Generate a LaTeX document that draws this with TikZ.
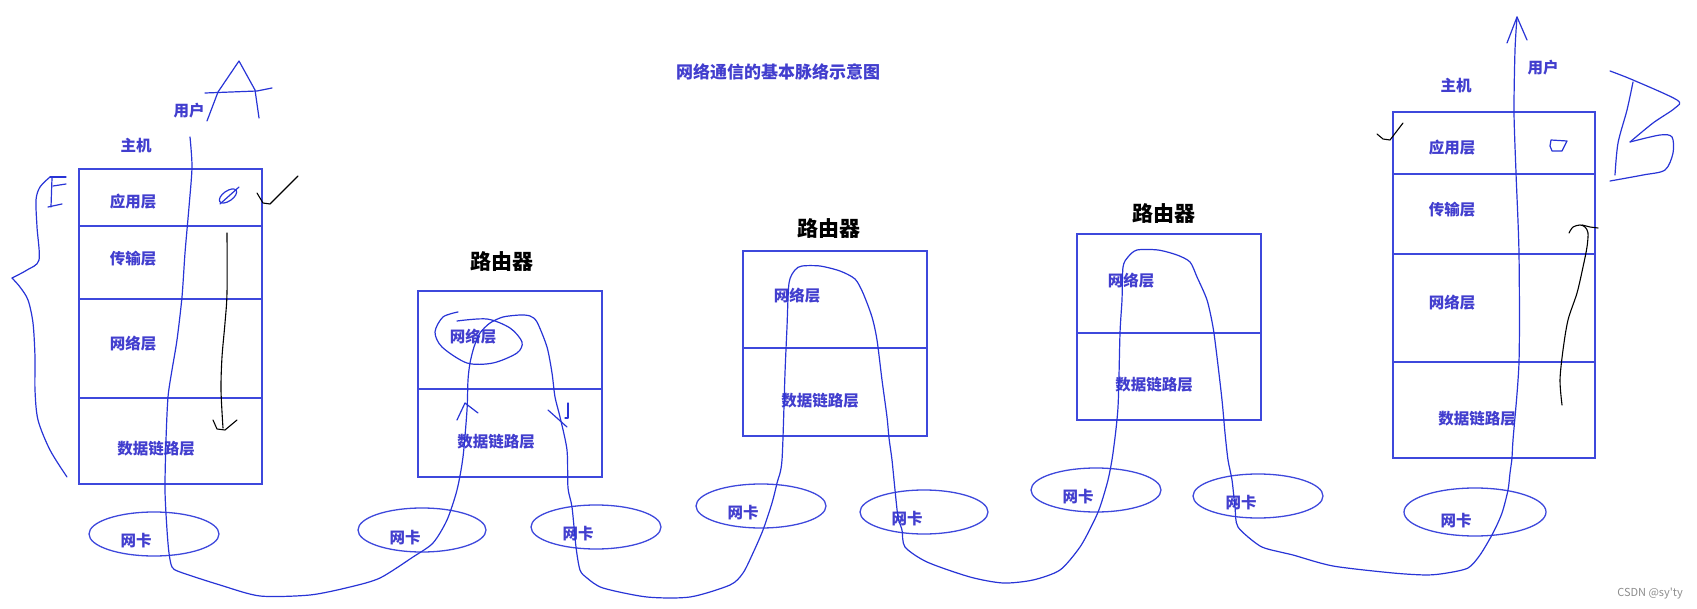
\documentclass[tikz,border=0pt]{standalone}
\usepackage{fontspec}
\newfontfamily\cjk{Noto Sans CJK SC}
\definecolor{boxblue}{RGB}{62,72,220}
\definecolor{penblue}{RGB}{40,52,214}
\definecolor{labelblue}{RGB}{66,62,206}
\tikzset{
  box/.style={draw=boxblue, line width=1.4pt},
  pen/.style={draw=penblue, line width=1.2pt, line cap=round, line join=round},
  ink/.style={draw=black, line width=1.1pt, line cap=round, line join=round},
  layer/.style={text=labelblue, inner sep=0pt, font=\cjk\bfseries\fontsize{15.5}{16}\selectfont},
  heading/.style={text=black, inner sep=0pt, font=\cjk\bfseries\fontsize{21}{22}\selectfont},
  nic/.style={draw=boxblue, line width=1.3pt}
}
\begin{document}
\begin{tikzpicture}[x=1pt, y=-1pt]
      \useasboundingbox (0,0) rectangle (1697,609);

      \node[layer, font=\cjk\bfseries\fontsize{17}{18}\selectfont] (title) at (778,72) {网络通信的基本脉络示意图};

      \draw[box] (79,169) rectangle (262,484);
      \draw[box] (79,226) -- (262,226);
      \draw[box] (79,299) -- (262,299);
      \draw[box] (79,398) -- (262,398);
      \node[layer] (hostA) at (136,146) {主机};
      \node[layer] (userA) at (189,111) {用户};
      \node[layer] (appA) at (133,202) {应用层};
      \node[layer] (transA) at (133,259) {传输层};
      \node[layer] (netA) at (133,344) {网络层};
      \node[layer] (linkA) at (156,449) {数据链路层};

      \draw[box] (418,291) rectangle (602,477);
      \draw[box] (418,389) -- (602,389);
      \node[heading] (routerI) at (502,262) {路由器};
      \node[layer] (netI) at (473,337) {网络层};
      \node[layer] (linkI) at (496,442) {数据链路层};

      \draw[box] (743,251) rectangle (927,436);
      \draw[box] (743,348) -- (927,348);
      \node[heading] (routerII) at (829,229) {路由器};
      \node[layer] (netII) at (797,296) {网络层};
      \node[layer] (linkII) at (820,401) {数据链路层};

      \draw[box] (1077,234) rectangle (1261,420);
      \draw[box] (1077,333) -- (1261,333);
      \node[heading] (routerIII) at (1164,214) {路由器};
      \node[layer] (netIII) at (1131,281) {网络层};
      \node[layer] (linkIII) at (1154,385) {数据链路层};

      \draw[box] (1393,112) rectangle (1595,458);
      \draw[box] (1393,174) -- (1595,174);
      \draw[box] (1393,254) -- (1595,254);
      \draw[box] (1393,362) -- (1595,362);
      \node[layer] (hostB) at (1456,86) {主机};
      \node[layer] (userB) at (1543,68) {用户};
      \node[layer] (appB) at (1452,148) {应用层};
      \node[layer] (transB) at (1452,210) {传输层};
      \node[layer] (netB) at (1452,303) {网络层};
      \node[layer] (linkB) at (1477,419) {数据链路层};

      \draw[nic] (154,534) ellipse (65 and 22);
      \node[layer] (nicA) at (136,541) {网卡};
      \draw[nic] (422,530) ellipse (64 and 22);
      \node[layer] (nicIa) at (405,538) {网卡};
      \draw[nic] (596,527) ellipse (65 and 22);
      \node[layer] (nicIb) at (578,534) {网卡};
      \draw[nic] (761,506) ellipse (65 and 22);
      \node[layer] (nicIIa) at (743,513) {网卡};
      \draw[nic] (924,512) ellipse (64 and 22);
      \node[layer] (nicIIb) at (907,519) {网卡};
      \draw[nic] (1096,490) ellipse (65 and 22);
      \node[layer] (nicIIIa) at (1078,497) {网卡};
      \draw[nic] (1258,496) ellipse (65 and 22);
      \node[layer] (nicIIIb) at (1241,503) {网卡};
      \draw[nic] (1475,512) ellipse (71 and 24);
      \node[layer] (nicB) at (1456,521) {网卡};

      \draw[pen] plot[smooth, tension=0.45] coordinates {(190,137) (192,167) (189,207) (185,253) (182,297) (177,340) (172,370) (168,397) (166,440) (165,490) (167,530) (169,553) (172,567) (180,572) (220,585) (260,596) (310,595) (350,587) (380,578) (413,557) (433,543) (447,520) (457,490) (463,457) (467,410) (468,380) (470,363) (474,347) (480,333) (490,323) (503,317) (520,315) (530,316) (537,322) (547,347) (552,373) (555,397) (560,417) (567,450) (568,488) (572,507) (576,547) (580,570) (587,578) (603,588) (647,597) (690,597) (730,585) (743,573) (753,553) (763,530) (772,503) (777,483) (782,460) (785,373) (787,327) (789,283) (795,270) (802,266) (820,266) (840,271) (855,279) (863,293) (872,317) (877,340) (882,380) (887,417) (889,438) (892,460) (895,490) (898,517) (902,530) (905,547) (927,562) (970,577) (1003,583) (1033,580) (1060,570) (1080,547) (1093,523) (1100,507) (1108,480) (1113,453) (1118,407) (1120,333) (1122,300) (1123,267) (1128,257) (1137,250) (1158,250) (1177,255) (1190,262) (1197,277) (1207,300) (1213,327) (1217,357) (1222,400) (1225,433) (1228,460) (1232,480) (1235,507) (1238,527) (1260,546) (1280,552) (1293,555) (1333,566) (1393,573) (1427,575) (1447,573) (1468,568) (1480,555) (1493,533) (1502,513) (1508,490) (1510,473) (1512,458) (1513,440) (1519,362) (1519,254) (1516,173) (1514,112) (1515,50) (1517,17)};
      \draw[pen] (1507,43) -- (1517,17) -- (1527,40);

      \draw[pen] (207,121) -- (218,92) -- (239,61) -- (255,90) -- (259,118);
      \draw[pen] (205,93) -- (257,91) -- (272,88);
      \draw[pen] plot[smooth] coordinates {(50,177) (40,187) (36,200) (37,227) (39,260) (27,270) (12,278)};
      \draw[pen] plot[smooth] coordinates {(12,278) (20,287) (28,300) (33,323) (35,357) (35,390) (38,420) (50,450) (67,477)};
      \draw[pen] (50,177) -- (66,177);
      \draw[pen] (52,178) -- (51,207);
      \draw[pen] (53,186) -- (66,184);
      \draw[pen] (48,207) -- (62,204);
      \draw[pen, rotate around={35:(228,196)}] (228,196) ellipse (10 and 5);
      \draw[pen] (220,204) -- (239,187);
      \draw[ink] (257,193) -- (263,203) -- (270,204) -- (298,176);
      \draw[ink] plot[smooth] coordinates {(227,233) (227,293) (225,323) (222,357) (221,390) (223,428)};
      \draw[ink] (213,420) -- (217,429) -- (225,430) -- (237,420);

      \draw[pen] plot[smooth] coordinates {(458,312) (443,317) (435,332) (442,347) (467,363) (493,363) (517,353) (522,342) (510,328) (487,319) (457,321)};
      \draw[pen] (457,420) -- (465,403) -- (478,413);
      \draw[pen] (548,410) -- (567,427);
      \draw[pen] (568,403) -- (568,418) -- (565,418);

      \draw[ink] (1377,134) -- (1383,139) -- (1390,140) -- (1403,123);
      \draw[pen] (1551,140) -- (1567,141) -- (1562,151) -- (1552,151) -- (1550,146) -- cycle;
      \draw[pen] plot[smooth] coordinates {(1610,71) (1633,80) (1677,100) (1675,108) (1653,123) (1630,142)};
      \draw[pen] plot[smooth] coordinates {(1630,142) (1660,135) (1672,137) (1673,153) (1665,170) (1643,175) (1610,181)};
      \draw[pen] plot[smooth] coordinates {(1633,82) (1627,110) (1618,143) (1615,175)};
      \draw[ink] plot[smooth] coordinates {(1562,405) (1560,380) (1563,350) (1568,320) (1577,293) (1583,267) (1587,247) (1588,233) (1585,227) (1580,225) (1573,227) (1569,233)};
      \draw[ink] (1582,225) -- (1590,227) -- (1598,228);

      \node[text=black!45, font=\cjk\fontsize{11}{12}\selectfont] (mark) at (1650,594) {CSDN @sy'ty};
    \end{tikzpicture}
\end{document}
